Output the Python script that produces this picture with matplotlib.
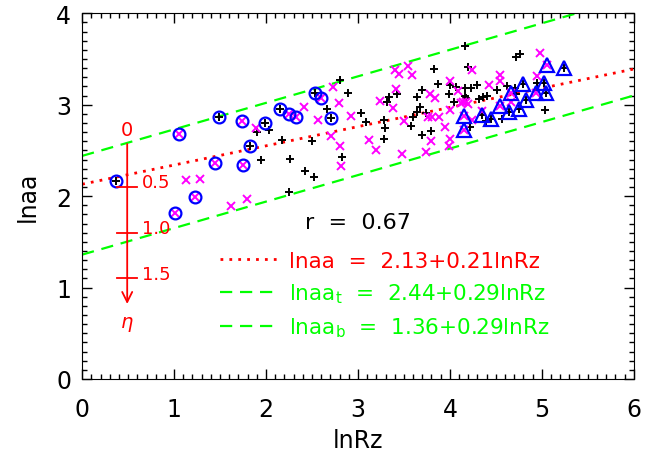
import numpy as np
import matplotlib
matplotlib.use('Agg')
import matplotlib.pyplot as plt
from matplotlib.ticker import MultipleLocator

# black plus points (lnRz, lnaa)
plus_x = [1.90, 2.03, 2.17, 1.95, 2.26, 2.25, 2.80, 2.89, 2.66, 3.03, 3.09, 3.28, 3.29, 3.28,
          2.50, 2.42, 2.52, 2.83, 3.34, 3.32, 3.42, 3.83, 3.87, 3.70, 3.64, 3.67, 3.64, 3.60,
          3.74, 3.58, 3.80, 3.70, 3.99, 4.00, 4.07, 4.16, 4.23, 4.20, 4.04, 4.16, 4.16, 4.72,
          4.76, 4.29, 4.18, 4.32, 4.36, 4.40, 4.51, 4.62, 4.71, 4.72, 4.95, 5.04, 4.57, 4.39, 4.22]
plus_y = [2.70, 2.72, 2.61, 2.39, 2.41, 2.04, 3.27, 3.13, 2.95, 2.91, 2.81, 2.83, 2.74, 2.63,
          2.60, 2.27, 2.21, 2.43, 3.08, 3.03, 3.12, 3.39, 3.23, 3.16, 3.08, 2.97, 2.92, 2.86,
          2.91, 2.77, 2.71, 2.67, 3.12, 3.22, 3.19, 3.18, 3.18, 3.41, 3.03, 3.10, 3.64, 3.52,
          3.55, 3.22, 3.07, 3.06, 3.08, 3.10, 3.16, 3.20, 3.18, 3.12, 3.24, 2.94, 2.84, 2.82, 2.76]

# magenta cross points
cross_x = [1.13, 1.28, 1.62, 1.79, 1.89, 2.41, 2.73, 2.79, 2.57, 2.92, 2.71, 2.80, 2.82, 3.12,
           3.20, 3.48, 3.24, 3.38, 3.41, 3.40, 3.45, 3.54, 3.59, 3.50, 3.78, 3.84, 3.76, 3.81,
           3.88, 3.95, 3.79, 3.74, 4.00, 3.99, 4.00, 4.00, 4.24, 4.14, 4.20, 4.98, 4.55, 4.54,
           4.43, 4.95, 4.09, 4.12, 4.18, 4.35, 4.66, 4.24]
cross_y = [2.18, 2.19, 1.89, 1.97, 2.75, 2.97, 3.19, 3.02, 2.83, 2.88, 2.66, 2.55, 2.33, 2.61,
           2.50, 2.46, 3.04, 2.96, 3.17, 3.38, 3.34, 3.42, 3.33, 2.82, 3.12, 3.07, 2.86, 2.86,
           2.86, 2.76, 2.60, 2.48, 2.63, 2.55, 3.26, 2.94, 3.38, 3.03, 3.01, 3.56, 3.33, 3.26,
           3.21, 3.31, 3.15, 3.02, 3.03, 2.93, 3.03, 2.83]

# blue circles (plus inside / cross inside)
circ_plus_x = [0.37, 1.49, 1.99, 2.15, 1.83, 2.53, 2.71]
circ_plus_y = [2.17, 2.87, 2.80, 2.95, 2.55, 3.13, 2.85]
circ_cross_x = [1.05, 1.74, 2.25, 2.33, 1.45, 1.75, 1.23, 1.01, 2.60]
circ_cross_y = [2.68, 2.82, 2.90, 2.86, 2.36, 2.34, 1.99, 1.81, 3.07]

# blue triangles (plus inside / cross inside)
tri_plus_x = [4.35, 4.45, 4.64, 4.75, 4.79, 4.83, 5.02, 5.05, 5.24]
tri_plus_y = [2.89, 2.84, 2.92, 2.95, 3.23, 3.05, 3.24, 3.13, 3.40]
tri_cross_x = [4.15, 4.15, 4.55, 4.66, 4.94, 5.06]
tri_cross_y = [2.88, 2.72, 2.99, 3.13, 3.13, 3.43]

# fit lines: intercept, slope
fit_mid = (2.13, 0.21)
fit_top = (2.44, 0.29)
fit_bot = (1.36, 0.29)
r_value = 0.67

# eta scale
eta_ticks = [0.5, 1.0, 1.5]
eta_top = 2.60
eta_x = 0.49
eta_end = 1.81

fig = plt.figure(figsize=(6.52, 4.6), dpi=100)
ax = fig.add_axes([0.126, 0.174, 0.846, 0.795])

xs = np.array([0, 6])
l1, = ax.plot(xs, fit_mid[0] + fit_mid[1] * xs, color='red', lw=2, linestyle=(0, (1, 2.2)))
l2, = ax.plot(xs, fit_top[0] + fit_top[1] * xs, color='#00ff00', lw=1.6, linestyle=(0, (5.5, 3.5)))
l3, = ax.plot(xs, fit_bot[0] + fit_bot[1] * xs, color='#00ff00', lw=1.6, linestyle=(0, (5.5, 3.5)))

ax.plot(plus_x + circ_plus_x + tri_plus_x, plus_y + circ_plus_y + tri_plus_y,
        '+', color='black', ms=6, mew=1.4)
ax.plot(cross_x + circ_cross_x + tri_cross_x, cross_y + circ_cross_y + tri_cross_y,
        'x', color='magenta', ms=5.5, mew=1.4)
ax.plot(circ_plus_x + circ_cross_x, circ_plus_y + circ_cross_y, 'o', mfc='none',
        mec='blue', ms=8.5, mew=1.6)
ax.plot(tri_plus_x + tri_cross_x, tri_plus_y + tri_cross_y, '^', mfc='none',
        mec='blue', ms=10.5, mew=1.6)

# eta arrow
ax.annotate('', xy=(eta_x, eta_top - eta_end), xytext=(eta_x, eta_top),
            arrowprops=dict(arrowstyle='->', color='red', lw=1.3, mutation_scale=18))
ax.text(eta_x, eta_top + 0.03, '0', color='red', fontsize=14, ha='center', va='bottom')
for e in eta_ticks:
    ax.plot([eta_x - 0.11, eta_x + 0.11], [eta_top - e] * 2, color='red', lw=1.3)
    ax.text(eta_x + 0.16, eta_top - e + 0.05, '%.1f' % e, color='red', fontsize=13,
            ha='left', va='center')
ax.text(eta_x, eta_top - eta_end - 0.08, r'$\eta$', color='red', fontsize=14,
        ha='center', va='top')

ax.text(2.42, 1.72, 'r  =  %.2f' % r_value, fontsize=16, ha='left', va='center')
ax.legend([l1, l2, l3],
          ['lnaa  =  %.2f+%.2flnRz' % fit_mid,
           r'lnaa$_\mathregular{t}$  =  %.2f+%.2flnRz' % fit_top,
           r'lnaa$_\mathregular{b}$  =  %.2f+%.2flnRz' % fit_bot],
          loc='upper left', bbox_to_anchor=(0.25, 0.35), frameon=False, borderpad=0,
          borderaxespad=0, handlelength=2.8, handletextpad=0.4, labelspacing=0.48,
          labelcolor='linecolor', fontsize=15.5)

ax.set_xlim(0, 6)
ax.set_ylim(0, 4)
ax.xaxis.set_major_locator(MultipleLocator(1))
ax.yaxis.set_major_locator(MultipleLocator(1))
ax.xaxis.set_minor_locator(MultipleLocator(0.1))
ax.yaxis.set_minor_locator(MultipleLocator(0.1))
ax.tick_params(which='both', direction='in', top=True, right=True, width=1)
ax.tick_params(which='major', length=7, labelsize=17)
ax.tick_params(axis='x', which='major', pad=13)
ax.tick_params(axis='y', which='major', pad=8)
ax.tick_params(which='minor', length=3.5)
ax.set_xlabel('lnRz', fontsize=17, labelpad=5)
ax.set_ylabel('lnaa', fontsize=17, labelpad=12)

fig.savefig('out.png', dpi=100)
